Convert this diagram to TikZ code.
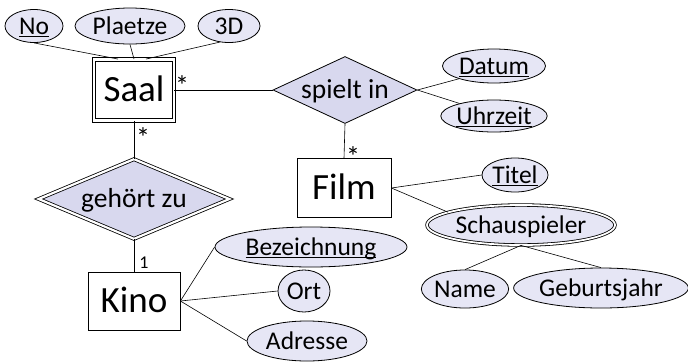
\documentclass[tikz,border=0pt]{standalone}
\usepackage{fontspec}
\setmainfont{Carlito}
\usetikzlibrary{shapes.geometric}
\definecolor{attrfill}{RGB}{230,230,245}
\definecolor{relfill}{RGB}{216,216,238}
\newsavebox\keybox
\newcommand\keyattr[1]{\sbox\keybox{#1}\rlap{\rule[-3.2pt]{\wd\keybox}{1.3pt}}\usebox\keybox}
\tikzset{
  attr/.style={ellipse, draw, fill=attrfill, inner sep=0pt, line width=0.8pt, font=\fontsize{25.5}{27}\selectfont, text height=16.4pt, text depth=0pt},
  ent/.style={rectangle, draw, fill=white, inner sep=0pt, line width=0.8pt, font=\fontsize{37}{39}\selectfont, text height=23.8pt, text depth=0pt},
  rel/.style={diamond, draw, fill=relfill, inner sep=0pt, line width=0.8pt, font=\fontsize{27.5}{29}\selectfont, text height=17.7pt, text depth=0pt},
  conn/.style={line width=0.6pt},
  card/.style={font=\fontsize{28}{30}\selectfont, inner sep=0pt, text height=0pt, text depth=0pt}
}
\begin{document}
\begin{tikzpicture}[x=1pt,y=-1pt]
\useasboundingbox (0,0) rectangle (688,362);
% entities
\node[ent, minimum width=80, minimum height=61, double, double distance=2.4pt, line width=0.9pt] (Saal) at (134,90) {Saal};
\node[ent, minimum width=94, minimum height=59] (Film) at (344,188) {Film};
\node[ent, minimum width=92, minimum height=58] (Kino) at (134,301) {Kino};
% relations
\node[rel, minimum width=144, minimum height=67, shape aspect=2.15] (spielt) at (345,90) {spielt in};
\node[rel, minimum width=191, minimum height=80, shape aspect=2.39, double, double distance=2.2pt] (gehoert) at (134,199) {gehört zu};
% attributes
\node[attr, minimum width=58, minimum height=33] (No) at (34,26) {\keyattr{No}};
\node[attr, minimum width=110, minimum height=36] (Plaetze) at (130,26) {Plaetze};
\node[attr, minimum width=62, minimum height=33] (DreiD) at (229,26) {3D};
\node[attr, minimum width=103, minimum height=34] (Datum) at (494,66) {\keyattr{Datum}};
\node[attr, minimum width=104, minimum height=32] (Uhrzeit) at (494,116) {\keyattr{Uhrzeit}};
\node[attr, minimum width=66, minimum height=34] (Titel) at (515,175) {\keyattr{Titel}};
\node[attr, minimum width=188, minimum height=40, double, double distance=1.8pt] (Schau) at (521,225) {Schauspieler};
\node[attr, minimum width=87, minimum height=38] (Name) at (465,289) {Name};
\node[attr, minimum width=172, minimum height=40] (Geb) at (601,288) {Geburtsjahr};
\node[attr, minimum width=192, minimum height=40] (Bez) at (311,247) {\keyattr{Bezeichnung}};
\node[attr, minimum width=52, minimum height=42] (Ort) at (304,291) {Ort};
\node[attr, minimum width=120, minimum height=40] (Adr) at (307,341) {Adresse};
% connectors
\draw[conn] (No.south) -- ([xshift=-16pt]Saal.north);
\draw[conn] (Plaetze.south) -- (Saal.north);
\draw[conn] (DreiD.240) -- ([xshift=12pt]Saal.north);
\draw[conn] (Saal.east) -- (spielt.west);
\draw[conn] (spielt.east) -- (Datum.200);
\draw[conn] (spielt.east) -- (Uhrzeit.160);
\draw[conn] (spielt.south) -- (Film.north);
\draw[conn] (Film.east) -- (Titel.west);
\draw[conn] (Film.east) -- (Schau.170);
\draw[conn] (Schau.south) -- (Name.north);
\draw[conn] (Schau.south) -- (Geb.north);
\draw[conn] (Saal.south) -- (gehoert.north);
\draw[conn] (gehoert.south) -- (Kino.north);
\draw[conn] (Kino.east) -- (Bez.west);
\draw[conn] (Kino.east) -- (Ort.west);
\draw[conn] (Kino.east) -- (Adr.west);
% cardinalities
\node[card] (c1) at (182,95) {*};
\node[card] (c2) at (143,147) {*};
\node[card] (c3) at (353,166) {*};
\node[card, font=\fontsize{18}{19}\selectfont, text height=12pt] (c4) at (144,262) {1};
\end{tikzpicture}
\end{document}
